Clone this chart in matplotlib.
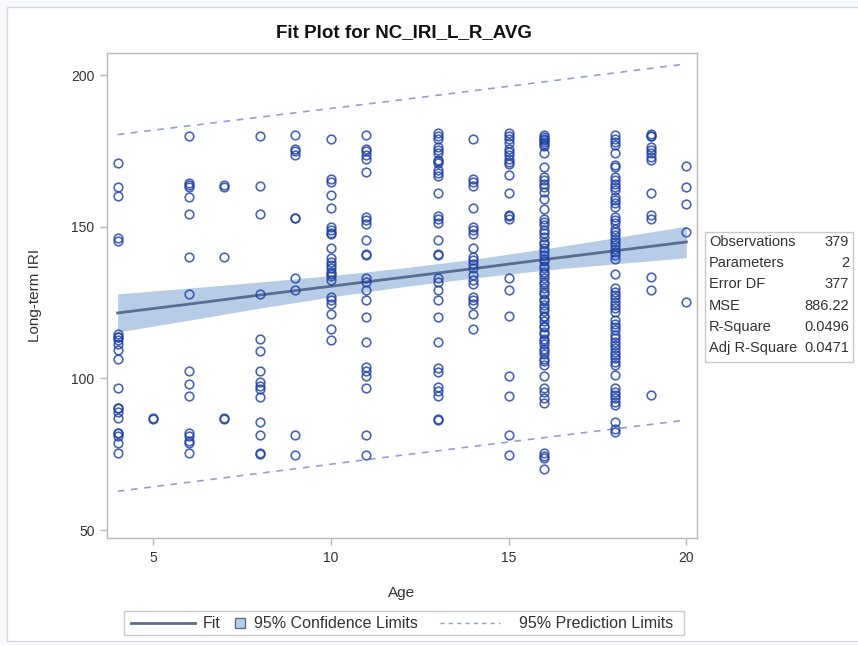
import matplotlib
matplotlib.use("Agg")
import matplotlib.pyplot as plt
from matplotlib.patches import Rectangle
from matplotlib.lines import Line2D
import numpy as np

plt.rcParams['font.family'] = ['Liberation Sans', 'DejaVu Sans']

# ---------------- data ----------------
iri_age4 = [171.0, 163.2, 160.1, 146.2, 145.4, 114.8, 113.7, 113.7, 112.6, 111.5,
            109.3, 106.3, 96.9, 90.1, 90.1, 89.0, 86.8, 81.9, 81.9, 81.0, 78.8, 75.3]
iri_age5 = [86.8, 86.6]
iri_age6 = [179.9, 164.3, 163.8, 163.2, 159.9, 154.1, 140.1, 128.0, 102.4, 98.3,
            94.3, 81.9, 81.0, 79.5, 78.8, 75.3]
iri_age7 = [163.8, 163.2, 140.1, 86.8, 86.5]
iri_age8 = [179.9, 163.5, 154.1, 128.0, 113.0, 109.1, 102.4, 98.9, 97.6, 96.4,
            94.0, 85.5, 81.5, 75.5, 75.2]
iri_age9 = [180.2, 175.8, 175.0, 173.6, 153.0, 152.8, 133.2, 129.3, 81.5, 74.9]
iri_age10 = [178.8, 165.9, 164.8, 160.4, 156.2, 150.0, 148.9, 147.8, 147.6, 142.9,
             139.6, 138.5, 137.4, 136.3, 135.2, 134.5, 133.7, 132.6, 126.9, 125.8,
             124.7, 121.4, 116.2, 112.6]
iri_age11 = [180.2, 175.8, 175.0, 173.6, 172.2, 168.1, 153.3, 152.2, 150.9, 145.8,
             140.9, 140.6, 133.0, 131.9, 129.1, 126.0, 120.3, 112.1, 103.8, 102.5,
             100.8, 96.9, 81.5, 74.9]
iri_age13 = [180.8, 179.9, 178.8, 176.4, 175.3, 174.2, 172.0, 171.6, 171.1, 168.7,
             167.6, 166.7, 161.2, 153.6, 152.5, 151.1, 145.8, 140.9, 140.6, 133.0,
             131.9, 129.1, 126.0, 120.3, 112.1, 103.6, 102.2, 97.3, 95.9, 94.2,
             86.5, 86.2]
iri_age14 = [178.8, 165.9, 164.8, 163.4, 156.2, 150.0, 148.9, 147.5, 142.9, 140.1,
             139.0, 137.7, 136.3, 134.1, 132.6, 131.3, 126.9, 125.8, 124.7, 121.4,
             116.2]
iri_age15 = [180.8, 179.9, 178.8, 177.7, 175.8, 174.7, 173.6, 172.5, 171.4, 170.7,
             167.0, 161.2, 153.8, 153.4, 152.7, 133.0, 129.3, 120.5, 100.8, 94.2,
             81.5, 74.9]
iri_age16 = [180.2, 179.6, 179.1, 178.5, 178.0, 177.3, 176.6, 174.2, 169.8, 166.3,
             165.3, 164.2, 163.1, 161.5, 159.3, 156.0, 152.7, 151.6, 150.5, 148.9,
             147.8, 146.7, 145.1, 144.2, 143.0, 142.1, 140.8, 139.4, 138.7, 137.2,
             136.5, 135.1, 134.3, 133.2, 131.7, 131.0, 129.9, 128.4, 127.8, 126.2,
             125.5, 124.1, 123.3, 122.2, 120.7, 120.1, 118.9, 117.4, 116.8, 115.2,
             114.6, 113.1, 112.3, 111.2, 109.7, 109.1, 107.9, 106.4, 105.8, 104.6,
             100.8, 96.7, 95.6, 93.4, 91.8, 75.4, 74.3, 73.8, 70.2]
iri_age18 = [180.2, 179.1, 178.0, 176.9, 174.2, 170.3, 169.8, 166.3, 165.3, 164.2,
             163.1, 162.0, 159.9, 158.8, 157.7, 156.4, 153.3, 152.2, 151.1, 149.4,
             148.3, 147.2, 146.1, 145.0, 143.9, 142.8, 141.7, 140.6, 139.5, 134.6,
             129.7, 128.6, 127.5, 126.4, 125.3, 124.2, 123.1, 122.0, 119.2, 118.1,
             117.0, 115.9, 114.3, 113.2, 112.1, 111.0, 109.9, 108.8, 107.7, 106.6,
             105.5, 104.4, 101.1, 96.7, 95.6, 94.5, 93.4, 92.3, 91.2, 85.7,
             83.5, 82.4]
iri_age19 = [180.5, 179.9, 179.9, 176.4, 175.3, 174.2, 173.1, 172.0, 161.2, 153.8,
             152.7, 133.5, 129.3, 94.5]
iri_age20 = [170.1, 163.0, 157.4, 148.3, 125.3]

ages = [4, 5, 6, 7, 8, 9, 10, 11, 13, 14, 15, 16, 18, 19, 20]
iri_by_age = [iri_age4, iri_age5, iri_age6, iri_age7, iri_age8, iri_age9, iri_age10,
              iri_age11, iri_age13, iri_age14, iri_age15, iri_age16, iri_age18,
              iri_age19, iri_age20]

# fit line and limits read at selected ages
fit_age = [4, 6, 8, 10, 12, 14, 16, 18, 20]
fit_val = [121.6, 124.5, 127.5, 130.4, 133.3, 136.2, 139.2, 142.1, 145.0]
cl_lower = [115.3, 119.2, 123.2, 126.9, 130.2, 133.1, 135.7, 137.8, 139.8]
cl_upper = [127.9, 129.8, 131.8, 133.9, 136.4, 139.3, 142.7, 146.4, 150.2]
pl_age = [4, 12, 20]
pl_lower = [62.8, 74.7, 86.3]
pl_upper = [180.4, 191.9, 203.7]

stat_names = ["Observations", "Parameters", "Error DF", "MSE", "R-Square", "Adj R-Square"]
stat_values = ["379", "2", "377", "886.22", "0.0496", "0.0471"]

title = "Fit Plot for NC_IRI_L_R_AVG"
xlabel = "Age"
ylabel = "Long-term IRI"
xticks = [5, 10, 15, 20]
yticks = [50, 100, 150, 200]

# ---------------- figure ----------------
W, H = 858, 646
fig = plt.figure(figsize=(W / 100, H / 100), dpi=100)
fig.patch.set_facecolor('#f8f9fc')


def px(x, y):
    return (x / W, 1 - y / H)


# white panel with light border
fig.patches.append(Rectangle(px(7, 641), (870 - 7) / W, (641 - 7) / H,
                             transform=fig.transFigure, facecolor='white',
                             edgecolor='#d6dae4', linewidth=1.0, zorder=-10))

ax_l, ax_r, ax_t, ax_b = 107, 697, 53, 538
ax = fig.add_axes([ax_l / W, 1 - ax_b / H, (ax_r - ax_l) / W, (ax_b - ax_t) / H])
ax.set_facecolor('white')
ax.set_zorder(1)

marker_col = '#1c3fa6'
fit_col = '#5a6c92'
band_col = '#b7cce6'
pl_col = '#939ddb'
text_col = '#333333'

ax.fill_between(fit_age, cl_lower, cl_upper, color=band_col, linewidth=0, zorder=1)
ax.plot(fit_age, fit_val, color=fit_col, linewidth=2.0, zorder=2)
ax.plot(pl_age, pl_lower, color=pl_col, linewidth=1.2, dashes=(4, 4), zorder=2)
ax.plot(pl_age, pl_upper, color=pl_col, linewidth=1.2, dashes=(4, 4), zorder=2)

for a, vals in zip(ages, iri_by_age):
    ax.plot([a] * len(vals), vals, linestyle='none', marker='o', markersize=6.2,
            markerfacecolor='none', markeredgecolor=marker_col, markeredgewidth=1.2,
            alpha=0.8, zorder=3)

ax.set_xlim(3.7, 20.3)
ax.set_ylim(47.4, 207.3)
ax.set_xticks(xticks)
ax.set_yticks(yticks)
for sp in ax.spines.values():
    sp.set_color('#b9b9b9')
    sp.set_linewidth(1.0)
ax.tick_params(axis='both', direction='out', length=5, width=1, color='#b9b9b9',
               labelsize=10, labelcolor=text_col, pad=4)
ax.set_xlabel(xlabel, fontsize=11, color=text_col)
ax.set_ylabel(ylabel, fontsize=11, color=text_col)
ax.yaxis.set_label_coords((35 - ax_l) / (ax_r - ax_l), 0.5)
ax.xaxis.set_label_coords(0.5, (ax_b - 593) / (ax_b - ax_t))
ax.xaxis.label.set_va('center')
ax.yaxis.label.set_va('center')

fig.text(*px(404, 33), title, ha='center', va='center', fontsize=13.5,
         fontweight='bold', color='#111111', zorder=4)

# statistics table
fig.patches.append(Rectangle(px(705, 362), (853 - 705) / W, (362 - 232) / H,
                             transform=fig.transFigure, facecolor='white',
                             edgecolor='#c8c8c8', linewidth=1.0, zorder=2))
row_y = [241.7, 262.7, 284.3, 306.0, 327.3, 348.3]
for name, val, yy in zip(stat_names, stat_values, row_y):
    fig.text(*px(709, yy), name, ha='left', va='center', fontsize=10.5, color=text_col, zorder=4)
    fig.text(*px(849, yy), val, ha='right', va='center', fontsize=10.5, color=text_col, zorder=4)

# legend
ly = 623
lfs = 11.5
fig.patches.append(Rectangle(px(124, 634.5), (684 - 124) / W, (634.5 - 611) / H,
                             transform=fig.transFigure, facecolor='white',
                             edgecolor='#c8c8c8', linewidth=1.0, zorder=2))
fig.lines.append(Line2D([px(131, ly)[0], px(195, ly)[0]], [px(0, ly)[1]] * 2,
                        transform=fig.transFigure, color=fit_col, linewidth=2.0, zorder=4))
fig.text(*px(203, ly), "Fit", ha='left', va='center', fontsize=lfs, color=text_col, zorder=4)
fig.patches.append(Rectangle(px(235, ly + 5), 10 / W, 10 / H, transform=fig.transFigure,
                             facecolor=band_col, edgecolor='#5a6c92', linewidth=1.0, zorder=4))
fig.text(*px(254, ly), "95% Confidence Limits", ha='left', va='center', fontsize=lfs,
         color=text_col, zorder=4)
fig.lines.append(Line2D([px(440, ly)[0], px(500, ly)[0]], [px(0, ly)[1]] * 2,
                        transform=fig.transFigure, color=pl_col, linewidth=1.0,
                        dashes=(3, 3), zorder=4))
fig.text(*px(673, ly), "95% Prediction Limits", ha='right', va='center', fontsize=lfs,
         color=text_col, zorder=4)

fig.savefig("out.png", dpi=100, facecolor=fig.get_facecolor())
